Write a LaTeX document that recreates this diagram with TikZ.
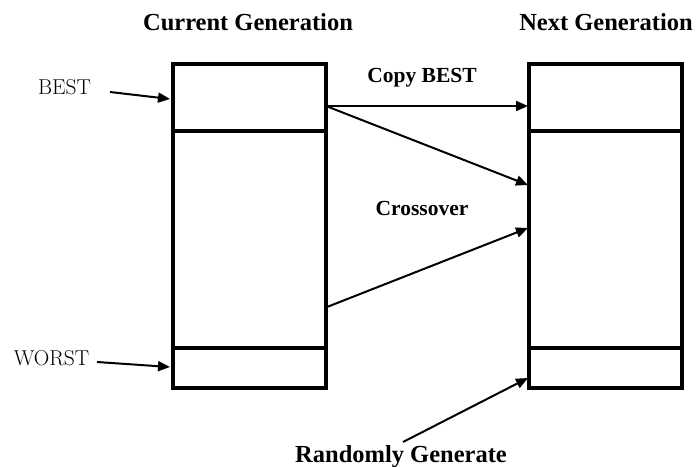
\documentclass[tikz,border=0pt]{standalone}
\usepackage{fontspec}
\newfontfamily\tnr{Liberation Serif}
\usetikzlibrary{arrows.meta}
\begin{document}
\begin{tikzpicture}[x=1pt,y=-1pt,
  cell/.style={draw,line width=3.2pt,minimum width=153pt,inner sep=0pt,outer sep=0pt},
  arr/.style={line width=2pt,-{Triangle[length=12pt,width=10pt]}},
  title/.style={inner sep=0pt,anchor=base,font=\tnr\bfseries\fontsize{24.5}{26}\selectfont},
  lbl/.style={inner sep=0pt,anchor=base,font=\tnr\bfseries\fontsize{21.5}{24}\selectfont},
  side/.style={inner sep=0pt,anchor=base,font=\fontsize{21.5}{23}\selectfont}]
\useasboundingbox (0,0) rectangle (698,466);
% left column
\node[cell,minimum height=67pt] (lb) at (249.5,97.5) {};
\node[cell,minimum height=217pt] (lm) at (249.5,239.5) {};
\node[cell,minimum height=40pt] (lw) at (249.5,368) {};
% right column
\node[cell,minimum height=67pt] (rb) at (605.5,97.5) {};
\node[cell,minimum height=217pt] (rm) at (605.5,239.5) {};
\node[cell,minimum height=40pt] (rw) at (605.5,368) {};
% titles
\node[title] (t1) at (248,30) {Current Generation};
\node[title] (t2) at (606,30) {Next Generation};
% labels
\node[lbl] (copy) at (422,82) {Copy BEST};
\node[lbl] (cross) at (422,215) {Crossover};
\node[title] (rand) at (401,462) {Randomly Generate};
\node[side] (best) at (64.5,94) {BEST};
\node[side] (worst) at (51.5,365) {WORST};
% coordinates
\coordinate (s1) at (326,106);
\coordinate (e1) at (528,106);
\coordinate (e2) at (528,185);
\coordinate (s3) at (327,307);
\coordinate (e3) at (528,228);
\coordinate (s4) at (403,442);
\coordinate (e4) at (528,378);
\coordinate (bs) at (110,92);
\coordinate (be) at (170,99);
\coordinate (ws) at (97,362);
\coordinate (we) at (170,367);
% arrows
\draw[arr] (s1) -- (e1);
\draw[arr] (s1) -- (e2);
\draw[arr] (s3) -- (e3);
\draw[arr] (s4) -- (e4);
\draw[arr] (bs) -- (be);
\draw[arr] (ws) -- (we);
\end{tikzpicture}
\end{document}
